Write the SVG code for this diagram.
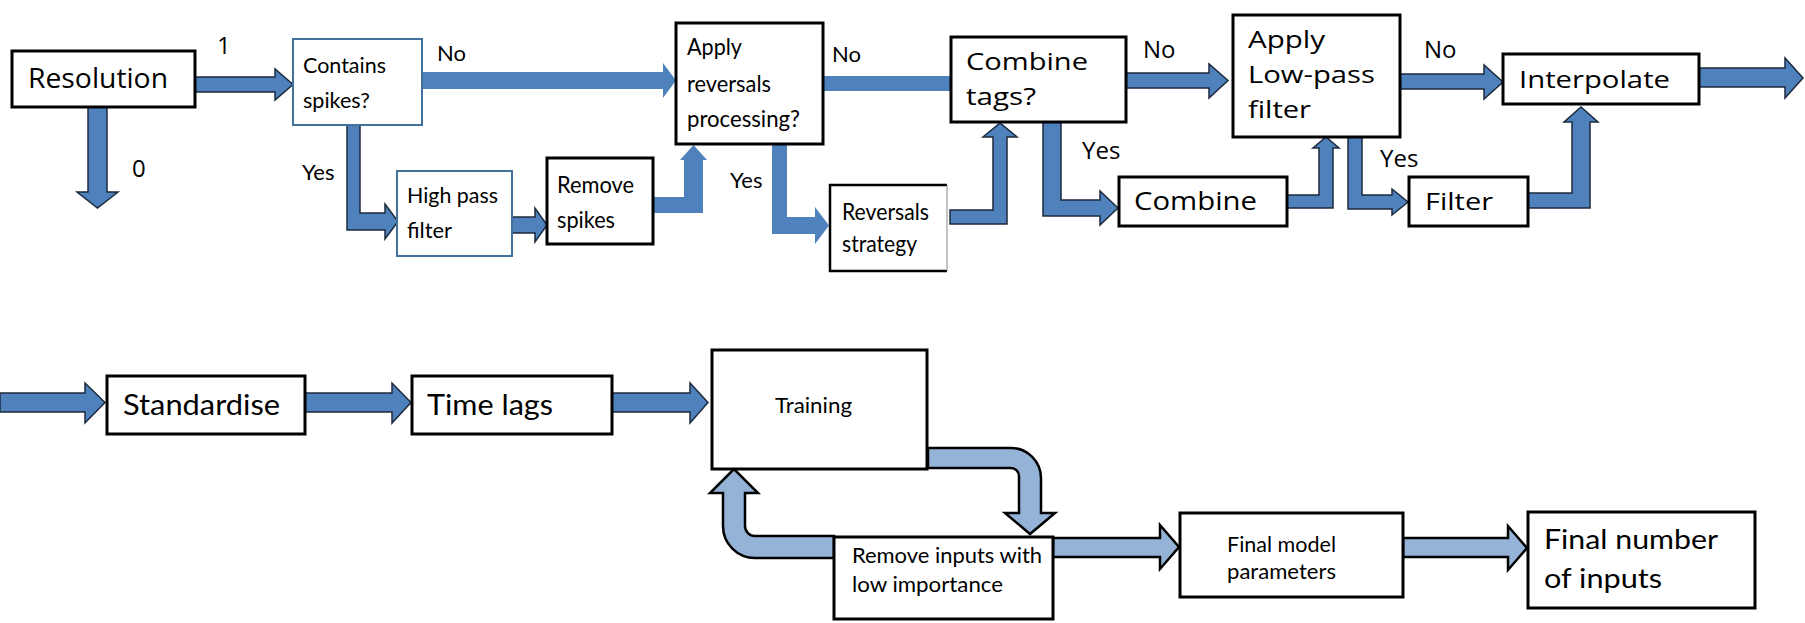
<svg xmlns="http://www.w3.org/2000/svg" width="1805" height="623" viewBox="0 0 1805 623">
<style>
.bx{fill:#fff;stroke:#000;stroke-width:3}
.bxb{fill:#fff;stroke:#41719C;stroke-width:2}
.ao{fill:#4F81BD;stroke:#1c2a3c;stroke-width:1.5;stroke-linejoin:miter}
.af{fill:#4F81BD;stroke:none}
.al{fill:#95B3D7;stroke:#000;stroke-width:2.5}
.c{font-family:Lato,"Liberation Sans",sans-serif;fill:#000}
.s{font-family:"Open Sans","Liberation Sans",sans-serif;fill:#000}
</style>
<rect width="1805" height="623" fill="#fff"/>
<g id="connectors">
<polygon class="ao" points="195,77 275,77 275,69 293,84.5 275,100 275,92 195,92"/>
<polygon class="ao" points="88,107 107,107 107,192 118,192 97.5,208 77,192 88,192"/>
<polygon class="ao" points="347,125 360,125 360,213 385,213 385,204 398,221.5 385,239 385,230 347,230"/>
<polygon class="af" points="422,72 663,72 663,63 676,80.5 663,98 663,89 422,89"/>
<polygon class="ao" points="512,217 535,217 535,208 547,225 535,242 535,233 512,233"/>
<polygon class="af" points="653,197 684,197 684,160 680,160 693.5,145 707,160 703,160 703,213 653,213"/>
<polygon class="af" points="772,144 787,144 787,217 815,217 815,207 829,225.5 815,244 815,234 772,234"/>
<rect class="af" x="823" y="76" width="127" height="15"/>
<polygon class="ao" points="950,210 993,210 993,137 983,137 1000,123 1017,137 1007,137 1007,224 950,224"/>
<polygon class="ao" points="1126,73 1209,73 1209,64 1228,80.5 1209,98 1209,88 1126,88"/>
<polygon class="ao" points="1043,122 1061,122 1061,200 1100,200 1100,191 1118,208 1100,225 1100,216 1043,216"/>
<polygon class="ao" points="1287,195 1319,195 1319,148 1313,148 1326,137 1339,148 1333,148 1333,208 1287,208"/>
<polygon class="ao" points="1348,137 1362,137 1362,195 1392,195 1392,189 1408,202 1392,215 1392,209 1348,209"/>
<polygon class="ao" points="1400,74 1484,74 1484,65 1503,82 1484,99 1484,89 1400,89"/>
<polygon class="ao" points="1528,193 1572,193 1572,122 1564,122 1581,107 1598,122 1590,122 1590,208 1528,208"/>
<polygon class="ao" points="1699,68 1785,68 1785,58 1803,78 1785,98 1785,87 1699,87"/>
<polygon class="ao" points="0,393 85,393 85,383 105,402.5 85,423 85,412 0,412"/>
<polygon class="ao" points="305,393 392,393 392,383 411,402.5 392,423 392,412 305,412"/>
<polygon class="ao" points="612,393 690,393 690,383 708,402.5 690,423 690,412 612,412"/>
<path class="al" d="M928,448 H1011 A30,30 0 0 1 1041,478 V513 H1055 L1030,534 L1005,513 H1019 V476 A8,8 0 0 0 1011,468 H928 Z"/>
<path class="al" d="M834,558 H755 A32,32 0 0 1 723,526 V493 H710 L734,469 L758,493 H745 V526 A10,10 0 0 0 755,536 H834 Z"/>
<polygon class="al" points="1053,538 1160,538 1160,525 1179,547 1160,569 1160,557 1053,557"/>
<polygon class="al" points="1403,538 1508,538 1508,526 1527,548 1508,570 1508,557 1403,557"/>
</g>
<g id="labels">
<text class="s" x="217" y="54" font-size="24">1</text>
<text class="s" x="132" y="177" font-size="24">0</text>
<text class="c" x="437" y="61" font-size="22">No</text>
<text class="c" x="302" y="180" font-size="22">Yes</text>
<text class="c" x="832" y="62" font-size="22">No</text>
<text class="c" x="730" y="188" font-size="22">Yes</text>
<text class="s" x="1143" y="58" font-size="24">No</text>
<text class="s" x="1082" y="159" font-size="24">Yes</text>
<text class="s" x="1380" y="167" font-size="24">Yes</text>
<text class="s" x="1424" y="58" font-size="24">No</text>
</g>
<g id="resolution">
<rect class="bx" x="12" y="51" width="183" height="56" stroke-width="4"/>
<text class="s" x="28" y="88" font-size="28" textLength="140" lengthAdjust="spacingAndGlyphs">Resolution</text>
</g>
<g id="contains-spikes">
<rect class="bxb" x="293" y="39" width="129" height="86"/>
<text class="c" x="303" y="73" font-size="22" textLength="83" lengthAdjust="spacingAndGlyphs">Contains</text>
<text class="c" x="303" y="108" font-size="22" textLength="67" lengthAdjust="spacingAndGlyphs">spikes?</text>
</g>
<g id="high-pass-filter">
<rect class="bxb" x="397" y="171" width="115" height="85"/>
<text class="c" x="407" y="203" font-size="22" textLength="91" lengthAdjust="spacingAndGlyphs">High pass</text>
<text class="c" x="407" y="238" font-size="22" textLength="45" lengthAdjust="spacingAndGlyphs">filter</text>
</g>
<g id="remove-spikes">
<rect class="bx" x="547" y="158" width="106" height="86" stroke-width="2.5"/>
<text class="c" x="557" y="193" font-size="23" textLength="77" lengthAdjust="spacingAndGlyphs">Remove</text>
<text class="c" x="557" y="228" font-size="23" textLength="58" lengthAdjust="spacingAndGlyphs">spikes</text>
</g>
<g id="apply-reversals">
<rect class="bx" x="676" y="23" width="147" height="121"/>
<text class="c" x="687" y="55" font-size="23" textLength="55" lengthAdjust="spacingAndGlyphs">Apply</text>
<text class="c" x="687" y="92" font-size="23" textLength="84" lengthAdjust="spacingAndGlyphs">reversals</text>
<text class="c" x="687" y="127" font-size="23" textLength="113" lengthAdjust="spacingAndGlyphs">processing?</text>
</g>
<g id="reversals-strategy">
<rect x="830" y="185" width="117" height="86" fill="#fff"/>
<path d="M947,185 H830 V271 H947" fill="none" stroke="#000" stroke-width="2.5"/>
<line x1="947" y1="185" x2="947" y2="271" stroke="#888" stroke-width="1"/>
<text class="c" x="842" y="220" font-size="23" textLength="87" lengthAdjust="spacingAndGlyphs">Reversals</text>
<text class="c" x="842" y="252" font-size="23" textLength="75" lengthAdjust="spacingAndGlyphs">strategy</text>
</g>
<g id="combine-tags">
<rect class="bx" x="951" y="37" width="175" height="85"/>
<text class="s" x="966" y="70" font-size="24" textLength="122" lengthAdjust="spacingAndGlyphs">Combine</text>
<text class="s" x="966" y="105" font-size="24" textLength="70" lengthAdjust="spacingAndGlyphs">tags?</text>
</g>
<g id="apply-low-pass">
<rect class="bx" x="1233" y="15" width="167" height="122"/>
<text class="s" x="1248" y="48" font-size="24" textLength="77" lengthAdjust="spacingAndGlyphs">Apply</text>
<text class="s" x="1248" y="83" font-size="24" textLength="127" lengthAdjust="spacingAndGlyphs">Low-pass</text>
<text class="s" x="1248" y="118" font-size="24" textLength="63" lengthAdjust="spacingAndGlyphs">filter</text>
</g>
<g id="combine">
<rect class="bx" x="1119" y="177" width="168" height="49"/>
<text class="s" x="1134" y="210" font-size="25" textLength="123" lengthAdjust="spacingAndGlyphs">Combine</text>
</g>
<g id="interpolate">
<rect class="bx" x="1503" y="54" width="196" height="50" stroke-width="3.5"/>
<text class="s" x="1519" y="88" font-size="24" textLength="151" lengthAdjust="spacingAndGlyphs">Interpolate</text>
</g>
<g id="filter">
<rect class="bx" x="1409" y="177" width="119" height="49"/>
<text class="s" x="1425" y="210" font-size="24" textLength="68" lengthAdjust="spacingAndGlyphs">Filter</text>
</g>
<g id="standardise">
<rect class="bx" x="107" y="376" width="198" height="58" stroke-width="4"/>
<text class="c" x="123" y="415" font-size="28" textLength="157" lengthAdjust="spacingAndGlyphs">Standardise</text>
</g>
<g id="time-lags">
<rect class="bx" x="412" y="376" width="200" height="58" stroke-width="4"/>
<text class="c" x="427" y="415" font-size="28" textLength="126" lengthAdjust="spacingAndGlyphs">Time lags</text>
</g>
<g id="training">
<rect class="bx" x="712" y="350" width="215" height="119"/>
<text class="c" x="775" y="413" font-size="21" textLength="77" lengthAdjust="spacingAndGlyphs">Training</text>
</g>
<g id="remove-inputs">
<rect class="bx" x="834" y="537" width="219" height="82"/>
<text class="c" x="852" y="563" font-size="21" textLength="190" lengthAdjust="spacingAndGlyphs">Remove inputs with</text>
<text class="c" x="852" y="592" font-size="21" textLength="151" lengthAdjust="spacingAndGlyphs">low importance</text>
</g>
<g id="final-model">
<rect class="bx" x="1180" y="513" width="223" height="84"/>
<text class="c" x="1227" y="552" font-size="22" textLength="109" lengthAdjust="spacingAndGlyphs">Final model</text>
<text class="c" x="1227" y="579" font-size="22" textLength="109" lengthAdjust="spacingAndGlyphs">parameters</text>
</g>
<g id="final-number">
<rect class="bx" x="1528" y="512" width="227" height="96" stroke-width="4"/>
<text class="c" x="1544" y="549" font-size="27" textLength="174" lengthAdjust="spacingAndGlyphs">Final number</text>
<text class="c" x="1544" y="588" font-size="27" textLength="118" lengthAdjust="spacingAndGlyphs">of inputs</text>
</g>
</svg>
